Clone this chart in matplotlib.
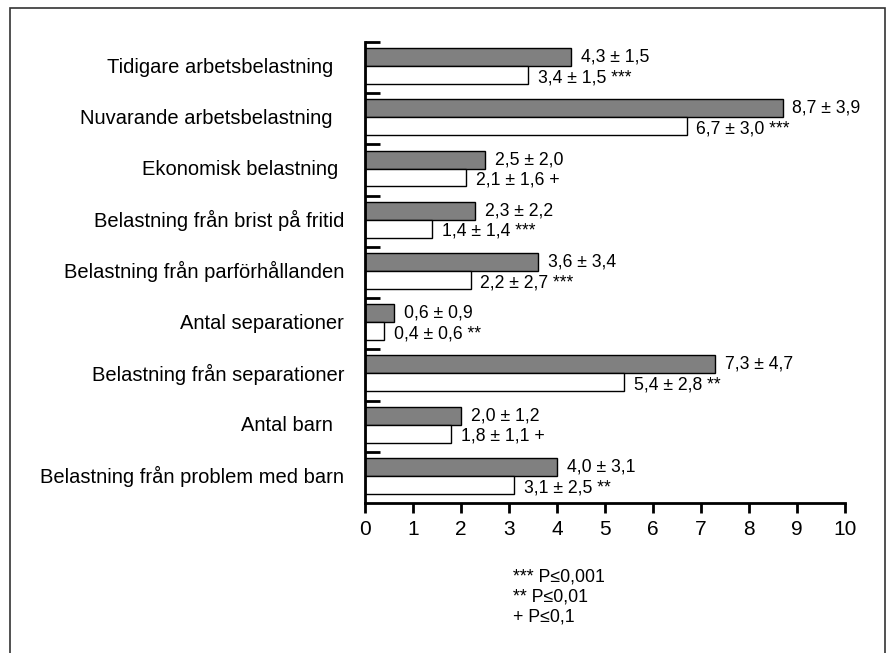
import numpy as np
import matplotlib.pyplot as plt
from matplotlib.patches import Rectangle

plt.rcParams['font.family'] = ['Liberation Sans', 'DejaVu Sans']

categories = ["Tidigare arbetsbelastning  ", "Nuvarande arbetsbelastning  ",
              "Ekonomisk belastning ", "Belastning från brist på fritid",
              "Belastning från parförhållanden", "Antal separationer",
              "Belastning från separationer", "Antal barn  ",
              "Belastning från problem med barn"]
grey_mean = [4.3, 8.7, 2.5, 2.3, 3.6, 0.6, 7.3, 2.0, 4.0]
grey_sd = [1.5, 3.9, 2.0, 2.2, 3.4, 0.9, 4.7, 1.2, 3.1]
white_mean = [3.4, 6.7, 2.1, 1.4, 2.2, 0.4, 5.4, 1.8, 3.1]
white_sd = [1.5, 3.0, 1.6, 1.4, 2.7, 0.6, 2.8, 1.1, 2.5]
signif = ["***", "***", "+", "***", "***", "**", "**", "+", "**"]
legend_lines = ["*** P\u22640,001", "** P\u22640,01", "+ P\u22640,1"]

def fmt(v):
    return f"{v:.1f}".replace(".", ",")

fig = plt.figure(figsize=(8.87, 6.53), dpi=100)
ax = fig.add_axes([365/887, 1 - 503/653, 480/887, 461/653])

idx = np.arange(len(categories))
h = 0.35
ax.barh(idx + 0.295, grey_mean, height=h, color='#808080', edgecolor='black', linewidth=1)
ax.barh(idx + 0.645, white_mean, height=h, color='white', edgecolor='black', linewidth=1)

for i in idx:
    ax.annotate(f"{fmt(grey_mean[i])} \u00b1 {fmt(grey_sd[i])}", (grey_mean[i], i + 0.295),
                xytext=(7, 0), textcoords='offset points', va='center', ha='left', fontsize=12.7)
    ax.annotate(f"{fmt(white_mean[i])} \u00b1 {fmt(white_sd[i])} {signif[i]}", (white_mean[i], i + 0.645),
                xytext=(7, -2), textcoords='offset points', va='center', ha='left', fontsize=12.7)

ax.set_xlim(0, 10)
ax.set_ylim(len(categories), 0)
ax.set_xticks(range(0, 11))
ax.tick_params(axis='x', direction='out', length=7, width=2, labelsize=15, pad=5)
ax.set_yticks(idx)
ax.set_yticklabels([])
ax.tick_params(axis='y', which='major', direction='in', length=11, width=2)
ax.set_yticks(idx + 0.45, minor=True)
ax.set_yticklabels(categories, minor=True, fontsize=14.5)
ax.tick_params(axis='y', which='minor', length=0, pad=15)

for s in ['top', 'right']:
    ax.spines[s].set_visible(False)
for s in ['left', 'bottom']:
    ax.spines[s].set_linewidth(2)

for k, line in enumerate(legend_lines):
    fig.text(513/887, 1 - (577 + 20*k)/653, line, fontsize=12.8, va='center', ha='left')

fig.patches.append(Rectangle((10/887, -0.05), 875/887, 1 - 8/653 + 0.05,
                             transform=fig.transFigure, fill=False,
                             edgecolor='#333333', linewidth=1.2))

fig.savefig('out.png', dpi=100)
